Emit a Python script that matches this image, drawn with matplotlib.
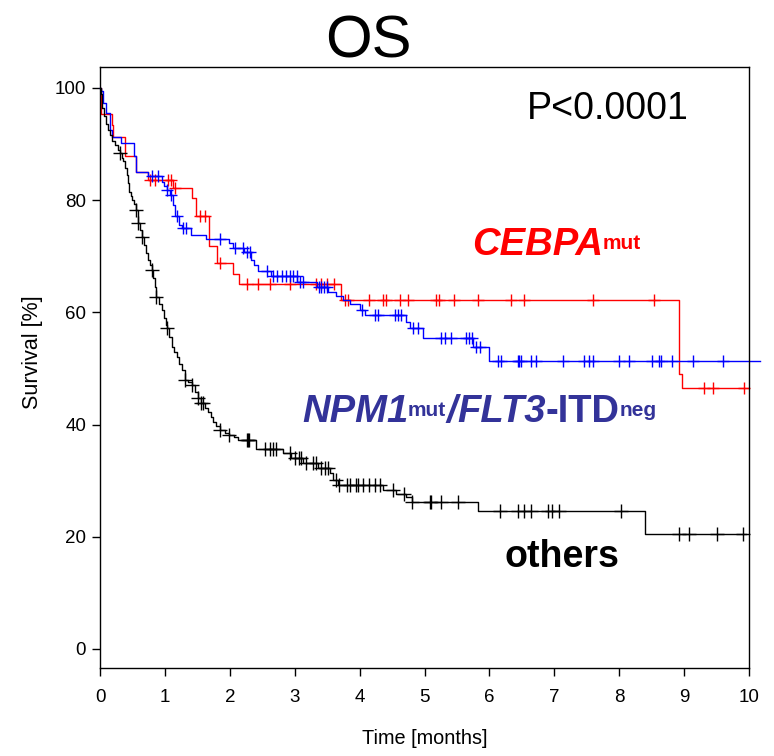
"""
Kaplan-Meier style overall survival plot (OS) for three genetic groups.
"""

import numpy as np
import matplotlib
matplotlib.use('Agg')
import matplotlib.pyplot as plt

plt.rcParams['font.family'] = ['Liberation Sans', 'DejaVu Sans']

# Step curves: time of each event (months) and survival (%) just after it

red_times = [0.02, 0.18, 0.20, 0.38, 0.56, 0.74, 1.12, 1.41, 1.48, 1.68, 1.80,
             2.05, 2.14, 3.72, 8.92, 8.97]
red_surv = [95.4, 93.4, 91.2, 87.9, 85.1, 83.6, 82.1, 80.4, 77.1, 71.8, 68.8,
            66.8, 65.1, 62.2, 49.0, 46.6]
red_censor = [0.77, 0.85, 1.05, 1.10, 1.15, 1.54, 1.62, 1.85, 2.26, 2.43, 2.62,
              2.92, 3.33, 3.41, 3.49, 3.60, 3.77, 3.82, 4.15, 4.36, 4.40, 4.62,
              4.74, 5.18, 5.23, 5.46, 5.82, 6.33, 6.54, 7.59, 8.54, 9.31, 9.45,
              9.92]
red_end = 10.0

blue_times = [0.02, 0.05, 0.10, 0.15, 0.18, 0.33, 0.52, 0.56, 0.74, 0.95, 0.99,
              1.04, 1.08, 1.12, 1.16, 1.22, 1.26, 1.40, 1.64, 1.99, 2.05, 2.22,
              2.32, 2.38, 2.44, 2.63, 3.04, 3.34, 3.52, 3.64, 3.74, 3.85, 4.00,
              4.08, 4.72, 4.78, 4.97, 5.74, 6.00]
blue_surv = [99.4, 97.3, 95.5, 92.5, 91.2, 90.2, 87.9, 85.1, 84.3, 83.3, 82.6,
             81.8, 80.9, 79.1, 77.1, 75.6, 75.0, 73.8, 73.0, 72.3, 71.4, 70.7,
             69.3, 68.4, 67.3, 66.4, 65.5, 64.6, 63.7, 62.9, 62.2, 61.5, 60.5,
             59.5, 58.2, 57.3, 55.4, 53.8, 51.4]
blue_censor = [0.80, 0.89, 1.04, 1.10, 1.18, 1.28, 1.33, 1.85, 2.08, 2.20, 2.26,
               2.31, 2.58, 2.66, 2.72, 2.80, 2.86, 2.92, 2.97, 3.03, 3.08, 3.13,
               3.37, 3.40, 3.45, 3.49, 4.03, 4.23, 4.28, 4.54, 4.59, 4.64, 4.82,
               4.90, 5.26, 5.31, 5.41, 5.64, 5.69, 5.73, 5.79, 5.85, 6.13, 6.18,
               6.44, 6.46, 6.49, 6.64, 6.72, 7.13, 7.46, 7.54, 7.59, 8.00, 8.15,
               8.51, 8.62, 8.64, 8.82, 9.13, 9.60]
blue_end = 10.17

black_times = [0.01, 0.03, 0.06, 0.09, 0.12, 0.15, 0.19, 0.23, 0.27, 0.31, 0.34,
               0.36, 0.39, 0.41, 0.43, 0.44, 0.47, 0.49, 0.52, 0.56, 0.58, 0.59,
               0.62, 0.64, 0.68, 0.71, 0.74, 0.77, 0.80, 0.82, 0.84, 0.87, 0.91,
               0.95, 0.98, 1.01, 1.03, 1.06, 1.11, 1.14, 1.18, 1.22, 1.26, 1.31,
               1.36, 1.41, 1.46, 1.51, 1.56, 1.62, 1.67, 1.71, 1.74, 1.79, 1.85,
               1.92, 1.98, 2.06, 2.13, 2.41, 2.82, 2.95, 3.13, 3.36, 3.54, 3.59,
               3.67, 4.36, 4.56, 4.72, 4.80, 5.82, 8.39]
black_surv = [99.0, 96.4, 95.0, 93.5, 92.5, 91.6, 90.6, 89.8, 89.0, 88.4, 87.5,
              86.9, 85.7, 84.5, 83.0, 81.5, 80.8, 80.0, 79.3, 78.3, 77.0, 75.9,
              74.7, 73.5, 72.0, 70.5, 69.3, 68.4, 67.6, 66.2, 64.5, 62.8, 61.5,
              60.4, 59.0, 57.8, 57.2, 55.6, 53.9, 53.0, 52.1, 50.8, 49.7, 48.0,
              47.6, 47.1, 45.8, 44.7, 43.8, 43.0, 42.3, 41.3, 40.5, 39.7, 39.0,
              38.5, 38.1, 37.7, 37.3, 35.6, 35.0, 34.0, 33.1, 32.2, 31.3, 30.1,
              29.3, 28.3, 27.7, 27.0, 26.2, 24.6, 20.4]
black_censor = [0.31, 0.56, 0.59, 0.64, 0.80, 0.87, 1.03, 1.31, 1.41, 1.51, 1.56,
                1.58, 1.85, 1.98, 2.26, 2.28, 2.30, 2.54, 2.62, 2.67, 2.71, 2.92,
                3.00, 3.07, 3.10, 3.18, 3.28, 3.33, 3.41, 3.46, 3.51, 3.63, 3.69,
                3.80, 3.85, 3.95, 3.97, 4.05, 4.15, 4.23, 4.31, 4.51, 4.69, 4.80,
                5.08, 5.10, 5.26, 5.52, 6.16, 6.44, 6.54, 6.64, 6.90, 6.97, 7.08,
                8.03, 8.92, 9.08, 9.51, 9.90]
black_end = 9.95

x_ticks = list(range(0, 11))
y_ticks = [0, 20, 40, 60, 80, 100]


def step_arrays(times, surv, end):
    """Build x, y arrays for a post-step survival curve."""

    x = np.concatenate([[0.0], times, [end]])
    y = np.concatenate([[100.0], surv, [surv[-1]]])
    return x, y


def surv_at(times, surv, t):
    """Survival value of the step curve at times t."""

    x = np.concatenate([[0.0], times])
    y = np.concatenate([[100.0], surv])
    idx = np.searchsorted(x, t, side='right') - 1
    return y[idx]


def plot_curve(ax, times, surv, censor, end, color, ms, clip=True):
    """Plot one survival curve with its censor marks."""

    x, y = step_arrays(times, surv, end)
    ax.step(x, y, where='post', color=color, linewidth=1.0, clip_on=clip)
    cy = surv_at(times, surv, np.array(censor))
    ax.plot(censor, cy, linestyle='none', marker='+', color=color,
            markersize=ms, markeredgewidth=1.0, clip_on=False)


def chain_text(ax, pieces, x, y, color):
    """Write pieces of text one after another; sup pieces are raised."""

    main_size = 27.5
    sup_size = 15
    first = ax.text(x, y, pieces[0][0], color=color, fontsize=main_size,
                    fontweight='bold', fontstyle=pieces[0][1], va='baseline')
    last_main = first
    prev = first
    for text, style in pieces[1:]:
        if style == 'sup':
            t = ax.annotate(text, xy=(1, 1), xycoords=prev, xytext=(0, -5),
                            textcoords='offset points', va='top', ha='left',
                            color=color, fontsize=sup_size, fontweight='bold')
        else:
            t = ax.annotate(text, xy=(1, 0), xycoords=(prev, last_main),
                            va='bottom', ha='left', color=color,
                            fontsize=main_size, fontweight='bold',
                            fontstyle=style)
            last_main = t
        prev = t


fig = plt.figure(figsize=(7.74, 7.56), dpi=100)
ax = fig.add_axes([0.1292, 0.1164, 0.8385, 0.7954])

plot_curve(ax, red_times, red_surv, red_censor, red_end, '#ff0000', 9)
plot_curve(ax, blue_times, blue_surv, blue_censor, blue_end, '#0000ff', 9,
           clip=False)
plot_curve(ax, black_times, black_surv, black_censor, black_end, 'black', 10)

ax.set_xlim(0, 10)
ax.set_ylim(-3.4, 103.8)
ax.set_xticks(x_ticks)
ax.set_yticks(y_ticks)
ax.tick_params(labelsize=13.5, length=6, width=1.0, direction='out')
ax.tick_params(axis='x', pad=9)
ax.tick_params(axis='y', pad=4)
for spine in ax.spines.values():
    spine.set_linewidth(1.0)

ax.set_xlabel('Time [months]', fontsize=14.3)
ax.xaxis.set_label_coords(0.5, -0.101)
ax.set_ylabel('Survival [%]', fontsize=15.5)
ax.yaxis.set_label_coords(-0.088, 0.525)

fig.text(368 / 774, 1 - 58 / 756, 'OS', fontsize=43, ha='center',
         va='baseline')

ax.text(6.58, 94.5, 'P<0.0001', fontsize=27, va='baseline')

chain_text(ax, [('CEBPA', 'italic'), ('mut', 'sup')], 5.73, 70.2, '#ff0000')
chain_text(ax, [('NPM1', 'italic'), ('mut', 'sup'), ('/', 'italic'),
                ('FLT3', 'italic'), ('-ITD', 'normal'), ('neg', 'sup')],
           3.11, 40.5, '#333399')
ax.text(6.24, 14.6, 'others', fontsize=27, fontweight='bold', va='baseline')

plt.savefig('out.png', dpi=100)
